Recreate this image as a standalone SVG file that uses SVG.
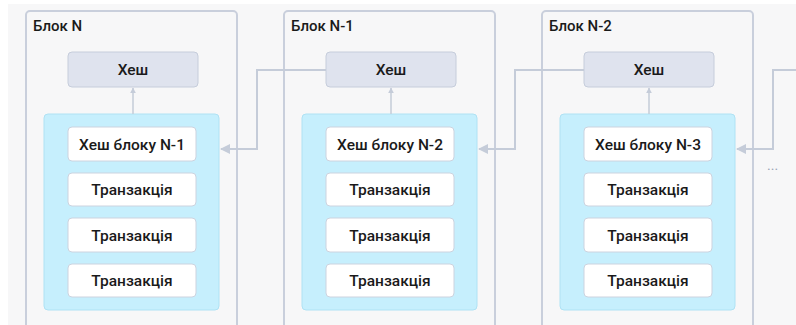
<svg xmlns="http://www.w3.org/2000/svg" width="796" height="325" viewBox="0 0 796 325">
  <defs>
    <style>
      .bg { fill: #f7f7f8; }
      .frame { fill: none; stroke: #c9cfdc; stroke-width: 2; }
      .title { font-family: Roboto, "Liberation Sans", sans-serif; font-size: 15px; font-weight: 500; fill: #1a1a1a; }
      .hash { fill: #dfe3ee; stroke: #c6cddb; stroke-width: 1; }
      .body { fill: #c6effd; stroke: #afe2f4; stroke-width: 1; }
      .item { fill: #ffffff; stroke: #ccd3df; stroke-width: 1; }
      .label { font-family: Roboto, "Liberation Sans", sans-serif; font-size: 15.5px; font-weight: 500; fill: #1a1a1a; text-anchor: middle; }
      .link { fill: none; stroke: #c5ccd9; stroke-width: 2; }
      .up { fill: none; stroke: #c5ccd9; stroke-width: 1.5; }
      .dots { font-family: Roboto, "Liberation Sans", sans-serif; font-size: 14px; fill: #9aa3b5; }
    </style>
    <marker id="head" viewBox="0 0 10 10" refX="9" refY="5" markerWidth="5" markerHeight="5" orient="auto" markerUnits="strokeWidth">
      <path d="M0,0 L10,5 L0,10 z" fill="#c5ccd9"/>
    </marker>
    <marker id="tip" viewBox="0 0 10 10" refX="9" refY="5" markerWidth="4" markerHeight="4" orient="auto" markerUnits="strokeWidth">
      <path d="M0,0 L10,5 L0,10 z" fill="#c5ccd9"/>
    </marker>
  </defs>

  <rect x="0" y="0" width="796" height="325" fill="#ffffff"/>
  <rect class="bg" x="8" y="4" width="788" height="321"/>

  <!-- Block N -->
  <g id="block-n">
    <rect class="frame" x="26" y="11" width="211" height="330" rx="4"/>
    <text class="title" x="33" y="31">Блок N</text>
    <rect class="hash" x="68" y="52" width="130" height="35" rx="4"/>
    <text class="label" x="133" y="75">Хеш</text>
    <rect class="body" x="44" y="114" width="175" height="196" rx="4"/>
    <rect class="item" x="68" y="127" width="128" height="34" rx="4"/>
    <text class="label" x="132" y="150">Хеш блоку N-1</text>
    <rect class="item" x="68" y="173" width="128" height="33" rx="4"/>
    <text class="label" x="132" y="195">Транзакція</text>
    <rect class="item" x="68" y="218" width="128" height="34" rx="4"/>
    <text class="label" x="132" y="241">Транзакція</text>
    <rect class="item" x="68" y="264" width="128" height="33" rx="4"/>
    <text class="label" x="132" y="286">Транзакція</text>
  </g>

  <!-- Block N-1 -->
  <g id="block-n-1">
    <rect class="frame" x="284" y="11" width="211" height="330" rx="4"/>
    <text class="title" x="291" y="31">Блок N-1</text>
    <rect class="hash" x="326" y="52" width="130" height="35" rx="4"/>
    <text class="label" x="391" y="75">Хеш</text>
    <rect class="body" x="302" y="114" width="175" height="196" rx="4"/>
    <rect class="item" x="326" y="127" width="128" height="34" rx="4"/>
    <text class="label" x="390" y="150">Хеш блоку N-2</text>
    <rect class="item" x="326" y="173" width="128" height="33" rx="4"/>
    <text class="label" x="390" y="195">Транзакція</text>
    <rect class="item" x="326" y="218" width="128" height="34" rx="4"/>
    <text class="label" x="390" y="241">Транзакція</text>
    <rect class="item" x="326" y="264" width="128" height="33" rx="4"/>
    <text class="label" x="390" y="286">Транзакція</text>
  </g>

  <!-- Block N-2 -->
  <g id="block-n-2">
    <rect class="frame" x="542" y="11" width="211" height="330" rx="4"/>
    <text class="title" x="549" y="31">Блок N-2</text>
    <rect class="hash" x="584" y="52" width="130" height="35" rx="4"/>
    <text class="label" x="649" y="75">Хеш</text>
    <rect class="body" x="560" y="114" width="175" height="196" rx="4"/>
    <rect class="item" x="584" y="127" width="128" height="34" rx="4"/>
    <text class="label" x="648" y="150">Хеш блоку N-3</text>
    <rect class="item" x="584" y="173" width="128" height="33" rx="4"/>
    <text class="label" x="648" y="195">Транзакція</text>
    <rect class="item" x="584" y="218" width="128" height="34" rx="4"/>
    <text class="label" x="648" y="241">Транзакція</text>
    <rect class="item" x="584" y="264" width="128" height="33" rx="4"/>
    <text class="label" x="648" y="286">Транзакція</text>
  </g>

  <!-- Connectors: block body to its hash, and each hash to the next block's reference -->
  <g id="connectors">
    <path class="up" d="M133,114 V88" marker-end="url(#tip)"/>
    <path class="up" d="M391,114 V88" marker-end="url(#tip)"/>
    <path class="up" d="M649,114 V88" marker-end="url(#tip)"/>
    <path class="link" d="M326,70 H257 V149 H221" marker-end="url(#head)"/>
    <path class="link" d="M584,70 H515 V149 H479" marker-end="url(#head)"/>
    <path class="link" d="M796,70 H773 V149 H737" marker-end="url(#head)"/>
  </g>

  <text class="dots" x="767" y="170">...</text>
</svg>
